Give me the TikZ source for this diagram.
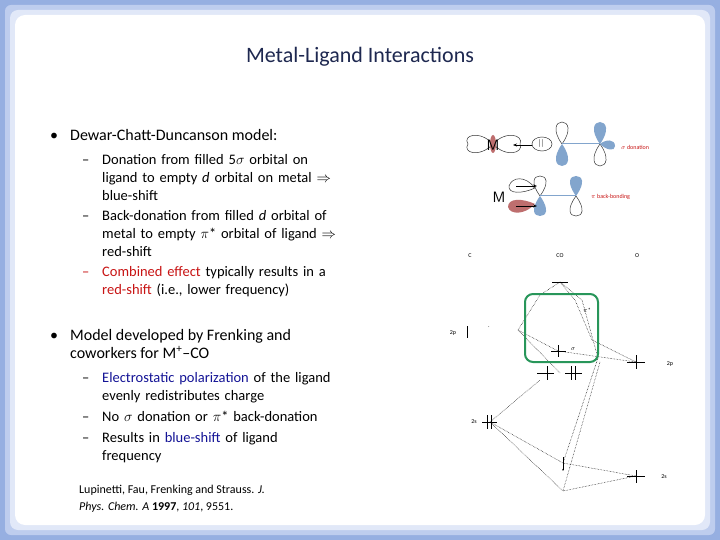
\documentclass[tikz,border=0pt]{standalone}
\usepackage{fontspec}
\setmainfont{Carlito}
\usetikzlibrary{arrows.meta}
\definecolor{frameA}{RGB}{150,175,225}
\definecolor{frameB}{RGB}{190,205,238}
\definecolor{frameC}{RGB}{225,232,248}
\definecolor{redt}{RGB}{200,20,20}
\definecolor{bluet}{RGB}{20,20,150}
\definecolor{titlec}{RGB}{30,40,80}
\definecolor{lobeb}{RGB}{130,165,205}
\definecolor{lober}{RGB}{190,110,110}
\definecolor{greenb}{RGB}{40,150,90}
\tikzset{
 body/.style={anchor=north west,inner sep=0pt,align=left,font=\fontsize{16}{18}\selectfont},
 sub/.style={anchor=north west,inner sep=0pt,align=left,text width=285pt,font=\fontsize{14.5}{18}\selectfont},
 dsh/.style={anchor=north west,inner sep=0pt,font=\fontsize{14.5}{18}\selectfont},
 lev/.style={line width=0.6pt},
 dl/.style={densely dotted,line width=0.5pt},
 tiny/.style={font=\fontsize{6}{6}\selectfont,inner sep=0pt},
 lobe/.style={draw=black!80,line width=0.5pt},
}
\begin{document}
\begin{tikzpicture}[x=1pt,y=-1pt]
\useasboundingbox (0,0) rectangle (720,540);
\fill[frameA] (0,0) rectangle (720,540);
\fill[frameB,rounded corners=6] (5,5) rectangle (715,535);
\fill[frameC,rounded corners=8] (10,10) rectangle (710,530);
\fill[white,rounded corners=10] (15,15) rectangle (705,525);
% title
\node[font=\fontsize{22}{24}\selectfont,text=titlec] (title) at (360,57) {Metal-Ligand Interactions};
% bullets
\node[body] (b1) at (50,128) {\strut•};
\node[body] (t1) at (70,128) {\strut Dewar-Chatt-Duncanson model:};
\node[dsh] (d1) at (82,152) {\strut–};
\node[sub] (s1) at (102,152) {\strut Donation from filled 5$\sigma$ orbital on\\ligand to empty \emph{d} orbital on metal $\Rightarrow$\\blue-shift};
\node[dsh] (d2) at (82,208) {\strut–};
\node[sub] (s2) at (102,208) {\strut Back-donation from filled \emph{d} orbital of\\metal to empty $\pi$* orbital of ligand $\Rightarrow$\\red-shift};
\node[dsh,text=redt] (d3) at (82,264) {\strut–};
\node[sub] (s3) at (102,264) {\strut\textcolor{redt}{Combined effect} typically results in a\\\textcolor{redt}{red-shift} (i.e., lower frequency)};
\node[body] (b2) at (50,328) {\strut•};
\node[body] (t2) at (70,328) {\strut Model developed by Frenking and\\coworkers for M\textsuperscript{+}–CO};
\node[dsh] (d4) at (82,370) {\strut–};
\node[sub] (s4) at (102,370) {\strut\textcolor{bluet}{Electrostatic polarization} of the ligand\\evenly redistributes charge};
\node[dsh] (d5) at (82,409) {\strut–};
\node[sub] (s5) at (102,409) {\strut No $\sigma$ donation or $\pi$* back-donation};
\node[dsh] (d6) at (82,430) {\strut–};
\node[sub] (s6) at (102,430) {\strut Results in \textcolor{bluet}{blue-shift} of ligand\\frequency};
\node[anchor=north west,inner sep=0pt,align=left,font=\fontsize{12}{17}\selectfont] (ref) at (79,481) {\strut Lupinetti, Fau, Frenking and Strauss. \emph{J.}\\\emph{Phys. Chem. A} \textbf{1997}, \emph{101}, 9551.};
% orbital sketch 1
\draw[lobe] (493,144) .. controls (480,130) and (462,135) .. (468,144) .. controls (462,153) and (480,158) .. (493,144);
\draw[lobe] (493,144) .. controls (506,130) and (524,135) .. (520,144) .. controls (524,153) and (506,158) .. (493,144);
\fill[lober] (493,144) ellipse (3 and 9);
\node[font=\fontsize{15}{15}\selectfont\sffamily,inner sep=0pt] (M1) at (493,145) {M};
\draw[lobe] (542,144) ellipse (10 and 7);
\node[font=\fontsize{8}{8}\selectfont,inner sep=0pt] (pair) at (541,144) {$||$};
\coordinate (ar1) at (532,145);
\coordinate (ar2) at (513,145);
\draw[-{Stealth[length=4pt]},line width=0.7pt] (ar1) -- (ar2);
\draw[lobe] (562,144) .. controls (552,130) and (556,122) .. (562,122) .. controls (568,122) and (572,130) .. (562,144);
\fill[lobeb] (562,144) .. controls (552,158) and (556,166) .. (562,166) .. controls (568,166) and (572,158) .. (562,144);
\draw[lobeb,line width=1pt] (562,144) -- (600,144);
\fill[lobeb] (600,144) .. controls (590,130) and (594,122) .. (600,122) .. controls (606,122) and (610,130) .. (600,144);
\draw[lobe] (600,144) .. controls (590,158) and (594,166) .. (600,166) .. controls (606,166) and (610,158) .. (600,144);
\fill[lobeb] (600,144) .. controls (606,139) and (615,139) .. (615,146) .. controls (615,152) and (606,150) .. (600,144);
\node[tiny,text=redt,anchor=west] (lab1) at (621,147) {$\sigma$ donation};
% orbital sketch 2
\node[font=\fontsize{15}{15}\selectfont\sffamily,inner sep=0pt] (M2) at (499,197) {M};
\draw[lobe] (535,188) .. controls (525,175) and (512,177) .. (509,186) .. controls (508,194) and (522,194) .. (535,188);
\fill[lober] (535,204) .. controls (525,215) and (510,215) .. (508,207) .. controls (508,198) and (522,198) .. (535,204);
\draw[lobe] (540,196) .. controls (530,182) and (534,176) .. (540,176) .. controls (546,176) and (550,182) .. (540,196);
\fill[lobeb] (540,196) .. controls (530,210) and (534,216) .. (540,216) .. controls (546,216) and (550,210) .. (540,196);
\draw[lobeb,line width=1pt] (540,196) -- (576,196);
\fill[lobeb] (576,196) .. controls (566,182) and (570,176) .. (576,176) .. controls (582,176) and (586,182) .. (576,196);
\draw[lobe] (576,196) .. controls (566,210) and (570,216) .. (576,216) .. controls (582,216) and (586,210) .. (576,196);
\coordinate (a1) at (516,186); \coordinate (a2) at (537,186);
\coordinate (a3) at (516,206); \coordinate (a4) at (537,206);
\draw[-{Stealth[length=4pt]},line width=0.7pt] (a1) -- (a2);
\draw[-{Stealth[length=4pt]},line width=0.7pt] (a3) -- (a4);
\node[tiny,text=redt,anchor=west] (lab2) at (591,197) {$\pi$ back-bonding};
% MO diagram
\node[tiny] (hC) at (470,256) {C};
\node[tiny] (hCO) at (560,256) {CO};
\node[tiny] (hO) at (637,256) {O};
\coordinate (top) at (560,282);
\draw[lev] (552,282) -- (568,282);
\node[tiny] (pist) at (587,310) {$\pi$*};
\draw[lev] (467,326) -- (467,338);
\node[tiny] (c2p) at (453,333) {2p};
\node[tiny] (cdot) at (489,327) {.};
\draw[lev] (551,351) -- (566,351); \draw[lev] (558,345) -- (558,357);
\coordinate (sig) at (558,351);
\node[tiny] (sigl) at (573,349) {$\sigma$};
\draw[lev] (627,362) -- (645,362); \draw[lev] (636,355) -- (636,369);
\coordinate (o2p) at (636,362);
\node[tiny] (o2pl) at (670,364) {2p};
\draw[lev] (537,373) -- (554,373); \draw[lev] (547,366) -- (547,380);
\draw[lev] (565,373) -- (582,373); \draw[lev] (571,366) -- (571,380); \draw[lev] (575,366) -- (575,380);
\coordinate (pi) at (560,373);
\draw[lev] (482,422) -- (497,422); \draw[lev] (487,415) -- (487,429); \draw[lev] (491,415) -- (491,429);
\coordinate (c2s) at (490,422);
\node[tiny] (c2sl) at (474,422) {2s};
\draw[lev,-{Stealth[length=2pt]}] (563,457) -- (563,471);
\coordinate (ss) at (563,463);
\coordinate (s3) at (563,491);
\draw[lev] (627,476) -- (645,476); \draw[lev] (636,470) -- (636,483);
\coordinate (o2s) at (636,476);
\node[tiny] (o2sl) at (664,477) {2s};
% dotted correlation lines
\draw[dl] (top) -- (540,295) -- (518,330) -- (sig);
\draw[dl] (top) -- (582,300) -- (598,358);
\draw[dl] (top) -- (575,300) -- (592,340) -- (o2p);
\draw[dl] (sig) -- (o2p);
\draw[dl] (518,330) -- (pi);
\draw[dl] (c2s) -- (540,380);
\draw[dl] (598,358) -- (ss);
\draw[dl] (600,362) -- (s3);
\draw[dl] (c2s) -- (ss);
\draw[dl] (c2s) -- (s3);
\draw[dl] (ss) -- (o2s);
\draw[dl] (s3) -- (o2s);
% green box
\draw[greenb,line width=2pt,rounded corners=8] (525,294) rectangle (598,362);
\end{tikzpicture}
\end{document}
